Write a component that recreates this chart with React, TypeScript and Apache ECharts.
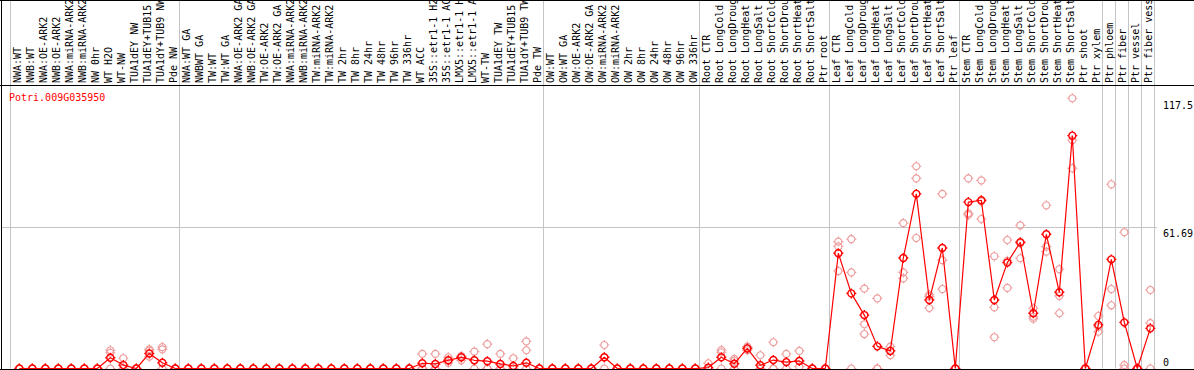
import React, { useEffect, useRef } from "react";
import * as echarts from "echarts";

const geneId = "Potri.009G035950";

const categories = [
  "NWA:WT", "NWB:WT", "NWA:OE-ARK2", "NWB:OE-ARK2", "NWA:miRNA-ARK2", "NWB:miRNA-ARK2",
  "NW 0hr", "WT H2O", "WT-NW", "TUA1dEY NW", "TUA1dEY+TUB15", "TUA1dY+TUB9 NW", "Pde NW",
  "NWA:WT GA", "NWBWT GA", "TW:WT", "TW:WT GA", "NWA:OE-ARK2 GA", "NWB:OE-ARK2 GA",
  "TW:OE-ARK2", "TW:OE-ARK2 GA", "NWA:miRNA-ARK2", "NWB:miRNA-ARK2", "TW:miRNA-ARK2",
  "TW:miRNA-ARK2", "TW 2hr", "TW 8hr", "TW 24hr", "TW 48hr", "TW 96hr", "TW 336hr",
  "WT ACC", "35S::etr1-1 H2", "35S::etr1-1 AC", "LMX5::etr1-1 H", "LMX5::etr1-1 A",
  "WT-TW", "TUA1dEY TW", "TUA1dEY+TUB15", "TUA1dY+TUB9 TW", "Pde TW",
  "OW:WT", "OW:WT GA", "OW:OE-ARK2", "OW:OE-ARK2 GA", "OW:miRNA-ARK2", "OW:miRNA-ARK2",
  "OW 2hr", "OW 8hr", "OW 24hr", "OW 48hr", "OW 96hr", "OW 336hr",
  "Root CTR", "Root LongCold", "Root LongDroug", "Root LongHeat", "Root LongSalt",
  "Root ShortCold", "Root ShortDrou", "Root ShortHeat", "Root ShortSalt", "Ptr root",
  "Leaf CTR", "Leaf LongCold", "Leaf LongDroug", "Leaf LongHeat", "Leaf LongSalt",
  "Leaf ShortCold", "Leaf ShortDrou", "Leaf ShortHeat", "Leaf ShortSalt", "Ptr leaf",
  "Stem CTR", "Stem LongCold", "Stem LongDroug", "Stem LongHeat", "Stem LongSalt",
  "Stem ShortCold", "Stem ShortDrou", "Stem ShortHeat", "Stem ShortSalt", "Ptr shoot",
  "Ptr xylem", "Ptr phloem", "Ptr fiber", "Ptr vessel", "Ptr fiber vess",
];

const meanValues = [
  0, 0, 0, 0, 0, 0, 0, 4.7, 1.5, 0, 6.6, 2.5, 0,
  0, 0, 0, 0, 0, 0, 0, 0, 0, 0, 0, 0, 0, 0, 0, 0, 0, 0,
  2.3, 2.0, 3.6, 4.9, 3.6, 3.2, 2.0, 1.1, 2.5, 0,
  0, 0, 0, 0, 4.9, 0, 0, 0, 0, 0, 0, 0,
  0.4, 4.9, 2.1, 8.8, 1.4, 3.7, 2.8, 3.3, 0, 0,
  50.5, 32.9, 23.4, 9.7, 7.7, 48.4, 76.5, 30.0, 52.8, 0,
  72.9, 73.7, 30.0, 46.4, 55.3, 24.2, 58.8, 33.4, 102.0, 0,
  19.1, 47.8, 20.2, 0, 17.6,
];

const replicateValues = [
  [0, 0, 0], [0, 0, 0], [0, 0, 0], [0, 0, 0], [0, 0, 0], [0, 0, 0], [0, 0, 0],
  [8.0, 6.9, 0], [4.5, 0, 0], [0, 0, 0], [8.4, 7.8, 5.2], [9.4, 8.4, 0], [0, 0, 0],
  [0, 0, 0], [0, 0, 0], [0, 0, 0], [0, 0, 0], [0, 0, 0], [0, 0, 0], [0, 0, 0], [0, 0, 0],
  [0, 0, 0], [0, 0, 0], [0, 0, 0], [0, 0, 0], [0, 0, 0], [0, 0, 0], [0, 0, 0], [0, 0, 0],
  [0, 0, 0], [0, 0, 0],
  [6.4, 0.2, 0], [6.4, 0, 0], [4.9, 3.4, 2.5], [5.5, 4.9, 3.6], [7.4, 3.6, 0],
  [10.7, 0, 0], [6.4, 0, 0], [4.5, 0, 0], [11.9, 8.0, 0], [0, 0, 0],
  [0, 0, 0], [0, 0, 0], [0, 0, 0], [0, 0, 0], [10.3, 4.9, 0], [0, 0, 0],
  [0, 0, 0], [0, 0, 0], [0, 0, 0], [0, 0, 0], [0, 0, 0], [0, 0, 0],
  [2.3, 0, 0], [8.1, 7.1, 0], [4.2, 3.4, 0], [9.6, 8.8, 8.0], [5.8, 0, 0],
  [11.5, 0, 0], [6.4, 2.8, 0], [7.7, 3.3, 0.8], [0, 0, 0], [0, 0, 0],
  [55.6, 53.5, 42.7], [56.7, 42.1, 0], [35.0, 19.4, 15.1], [30.7, 0, 0], [9.6, 7.8, 5.8],
  [63.7, 42.1, 39.5], [88.6, 83.3, 57.2], [32.3, 31.5, 26.5], [76.5, 47.5, 34.8], [0, 0, 0],
  [83.3, 68.0, 67.3], [82.4, 73.2, 65.5], [49.2, 26.8, 13.7], [56.3, 47.2, 35.3],
  [62.7, 54.9, 48.3], [26.4, 22.7, 21.8], [71.5, 53.4, 51.2], [43.5, 31.8, 24.2],
  [118.4, 100.0, 87.7], [0, 0, 0],
  [23.0, 18.2, 16.1], [80.7, 34.8, 27.7], [59.7, 1.5, 0], [0, 0, 0], [34.4, 19.9, 0],
];

const groupBoundaries = [0, 13, 41, 53, 63, 73, 84, 85, 86, 87, 88];
const axisTickValues = [117.5, 61.69, 0];
const axisTickLabels = ["117.5", "61.69", "0"];
const gridLineValue = 61.69;

const Y_MAX = 124.2;
const POINT_OFFSET = 0.64;
const MONO = "'DejaVu Sans Mono', 'Liberation Mono', monospace";
const MARKER =
  "path://M5,1.5 C6.933,1.5 8.5,3.067 8.5,5 C8.5,6.933 6.933,8.5 5,8.5 C3.067,8.5 1.5,6.933 1.5,5 C1.5,3.067 3.067,1.5 5,1.5 Z M5,0 L5,1.5 M5,8.5 L5,10 M0,5 L1.5,5 M8.5,5 L10,5";

export default function App() {
  const ref = useRef<HTMLDivElement>(null);

  useEffect(() => {
    if (!ref.current) return;
    const chart = echarts.init(ref.current, null, { renderer: "svg" });

    const meanData = meanValues.map((v, i) => [i + POINT_OFFSET, v]);
    const repData: number[][] = [];
    replicateValues.forEach((reps, i) => {
      reps.forEach((v) => repData.push([i + POINT_OFFSET, v]));
    });

    chart.setOption({
      animation: false,
      backgroundColor: "#ffffff",
      grid: { left: 11, right: 39, top: 85, bottom: 1.5, containLabel: false },
      xAxis: {
        type: "value",
        min: 0,
        max: categories.length,
        axisLine: { show: false },
        axisTick: { show: false },
        axisLabel: { show: false },
        splitLine: { show: false },
      },
      yAxis: {
        type: "value",
        min: 0,
        max: Y_MAX,
        axisLine: { show: false },
        axisTick: { show: false },
        axisLabel: { show: false },
        splitLine: { show: false },
      },
      series: [
        {
          type: "scatter",
          data: repData,
          symbol: MARKER,
          symbolSize: 10,
          z: 2,
          itemStyle: {
            color: "rgba(0,0,0,0)",
            borderColor: "#ee9a9a",
            borderWidth: 1.1,
            opacity: 1,
          },
          silent: true,
        },
        {
          type: "line",
          data: meanData,
          symbol: MARKER,
          symbolSize: 10,
          showSymbol: true,
          showAllSymbol: true,
          z: 3,
          lineStyle: { color: "#ff0000", width: 1.2 },
          itemStyle: {
            color: "rgba(0,0,0,0)",
            borderColor: "#ff0000",
            borderWidth: 1.4,
          },
          silent: true,
        },
      ],
    });

    const W = 1194;
    const zeroY = chart.convertToPixel({ yAxisIndex: 0 }, 0) as number;
    const rightX = chart.convertToPixel({ xAxisIndex: 0 }, categories.length) as number;
    const gridY = chart.convertToPixel({ yAxisIndex: 0 }, gridLineValue) as number;
    const graphics: any[] = [];

    // category labels, rotated, reading bottom-to-top, placed through the x scale
    categories.forEach((name, i) => {
      const px = chart.convertToPixel({ xAxisIndex: 0 }, i + 0.5) as number;
      graphics.push({
        type: "text",
        z: 5,
        x: px,
        y: 83,
        rotation: Math.PI / 2,
        style: {
          text: name,
          fill: "#000000",
          font: `10px ${MONO}`,
          textAlign: "left",
          textVerticalAlign: "middle",
        },
        silent: true,
      });
    });

    groupBoundaries.forEach((b) => {
      const px = Math.round(chart.convertToPixel({ xAxisIndex: 0 }, b) as number) - 0.5;
      graphics.push({
        type: "line",
        z: 1,
        shape: { x1: px, y1: 0, x2: px, y2: zeroY },
        style: { stroke: "#c4c4c4", lineWidth: 1 },
        silent: true,
      });
    });

    graphics.push({
      type: "line",
      z: 1,
      shape: { x1: 1, y1: Math.round(gridY) - 0.5, x2: rightX + 2, y2: Math.round(gridY) - 0.5 },
      style: { stroke: "#c4c4c4", lineWidth: 1 },
      silent: true,
    });

    const frame = [
      { x1: 0, y1: 0.5, x2: W, y2: 0.5 },
      { x1: 0, y1: 85.5, x2: W, y2: 85.5 },
      { x1: 0, y1: Math.round(zeroY) + 0.5, x2: W, y2: Math.round(zeroY) + 0.5 },
      { x1: 1.5, y1: 0, x2: 1.5, y2: 370 },
    ];
    frame.forEach((s) =>
      graphics.push({
        type: "line",
        z: 10,
        shape: s,
        style: { stroke: "#000000", lineWidth: 1 },
        silent: true,
      })
    );

    axisTickValues.forEach((v, k) => {
      const py = chart.convertToPixel({ yAxisIndex: 0 }, v) as number;
      const atBottom = v === 0;
      graphics.push({
        type: "text",
        z: 10,
        x: rightX + 8,
        y: atBottom ? py - 6.5 : py + 5.5,
        style: {
          text: axisTickLabels[k],
          fill: "#000000",
          font: `10px ${MONO}`,
          textAlign: "left",
          textVerticalAlign: "middle",
        },
        silent: true,
      });
    });

    graphics.push({
      type: "text",
      z: 10,
      x: 9,
      y: 97,
      style: {
        text: geneId,
        fill: "#ff0000",
        font: `10px ${MONO}`,
        textAlign: "left",
        textVerticalAlign: "middle",
      },
      silent: true,
    });

    chart.setOption({ graphic: graphics });

    return () => chart.dispose();
  }, []);

  return (
    <div
      ref={ref}
      style={{ position: "fixed", left: 0, top: 0, width: 1194, height: 370, background: "#fff" }}
    />
  );
}
